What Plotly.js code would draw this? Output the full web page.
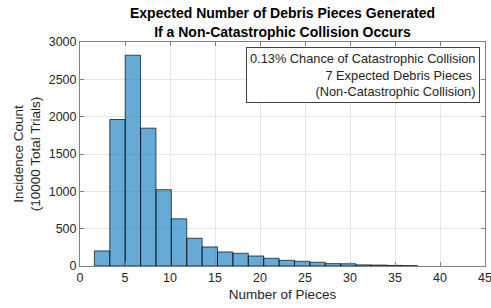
<!DOCTYPE html>
<html><head><meta charset="utf-8">
<script src="https://cdn.plot.ly/plotly-3.0.1.min.js"></script>
<style>html,body{margin:0;padding:0;background:#fff}#chart{width:491px;height:308px}</style>
</head><body><div id="chart"></div>
<script>
// Histogram counts (10000 trials)
const counts = [202,1962,2823,1846,1022,632,372,255,188,170,134,103,76,63,50,32,30,15,13,8,4];
const binStart = 1.6;
const binWidth = 1.71;
const xTicks = [0,5,10,15,20,25,30,35,40,45];
const yTicks = [0,500,1000,1500,2000,2500,3000];
const titleLines = ["Expected Number of Debris Pieces Generated","If a Non-Catastrophic Collision Occurs"];
const boxLines = ["0.13% Chance of Catastrophic Collision","7 Expected Debris Pieces ","(Non-Catastrophic Collision)"];

const centers = counts.map((c,i)=>binStart + binWidth*(i+0.5));
const font = "Liberation Sans, Arial, sans-serif";
const axisCol = "#262626";

const trace = {
  type:'bar', x:centers, y:counts, width:binWidth,
  marker:{color:'rgba(0,114,189,0.6)', line:{color:'rgba(0,0,0,0.85)', width:0.8}},
  hoverinfo:'skip'
};
const layout = {
  width:491, height:308,
  margin:{l:80, r:6, t:42, b:42},
  paper_bgcolor:'#fff', plot_bgcolor:'#fff',
  font:{family:font, color:axisCol, size:12},
  showlegend:false,
  title:{text:titleLines.join('<br>'), font:{family:font, size:14, color:'#000', weight:'bold'},
         x:0.5, xanchor:'center', xref:'paper', yref:'container', y:0.94, yanchor:'middle'},
  xaxis:{range:[0,45], tickvals:xTicks, ticktext:xTicks.map(String),
         showgrid:true, gridcolor:'#e6e6e6', gridwidth:1,
         showline:true, linecolor:'#808080', linewidth:1, mirror:'allticks',
         ticks:'inside', ticklen:4, tickcolor:'#808080', zeroline:false,
         ticklabeloverflow:'allow', automargin:false,
         tickfont:{size:12.5, color:axisCol},
         title:{text:'Number of Pieces', font:{size:13.5, color:axisCol}, standoff:5}},
  yaxis:{range:[0,3000], tickvals:yTicks, ticktext:yTicks.map(String),
         showgrid:true, gridcolor:'#e6e6e6', gridwidth:1,
         showline:true, linecolor:'#808080', linewidth:1, mirror:'allticks',
         ticks:'inside', ticklen:4, tickcolor:'#808080', zeroline:false,
         automargin:false,
         tickfont:{size:12.5, color:axisCol},
         title:{text:'Incidence Count<br>(10000 Total Trials)', font:{size:13.5, color:axisCol}, standoff:4}},
  bargap:0,
  annotations:[{
    xref:'paper', yref:'paper', x:0.988, y:0.978, xanchor:'right', yanchor:'top',
    text:boxLines.join('<br>'), align:'right', showarrow:false,
    font:{family:font, size:12.8, color:axisCol},
    bordercolor:'#404040', borderwidth:1, borderpad:3, bgcolor:'#fff'
  }]
};
Plotly.newPlot('chart',[trace],layout,{displayModeBar:false, staticPlot:true});
</script></body></html>
